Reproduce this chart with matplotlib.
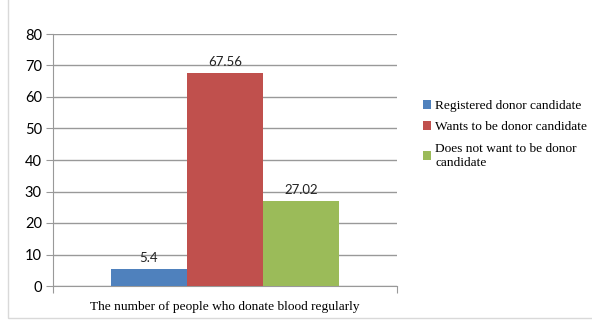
import matplotlib.pyplot as plt
from matplotlib.patches import Rectangle

series = ["Registered donor candidate", "Wants to be donor candidate",
          "Does not want to be donor\ncandidate"]
values = [5.4, 67.56, 27.02]
labels = ["5.4", "67.56", "27.02"]
colors = ["#4f81bd", "#c0504d", "#9bbb59"]
category = "The number of people who donate blood regularly"
yticks = [0, 10, 20, 30, 40, 50, 60, 70, 80]

fig = plt.figure(figsize=(5.92, 3.25), dpi=100)
fig.patches.append(Rectangle((8 / 592, 7 / 325), 1, 1, transform=fig.transFigure,
                             fill=False, edgecolor="#d9d9d9", linewidth=1))
ax = fig.add_axes([53 / 592, 39 / 325, 344 / 592, 252 / 325])

width = 0.221
offsets = [-width, 0, width]
for off, v, c, name, lab in zip(offsets, values, colors, series, labels):
    ax.bar(off, v, width=width, color=c, label=name, zorder=3)
    ax.text(off, v + 1.5, lab, ha="center", va="bottom", fontsize=9.5,
            family="Lato", color="#222222")

ax.set_xlim(-0.5, 0.5)
ax.set_ylim(0, 80)
ax.set_yticks(yticks)
ax.set_yticklabels([str(t) for t in yticks], family="Lato", fontsize=10.5)
ax.set_xticks([-0.5, 0.5])
ax.set_xticklabels(["", ""])
ax.grid(axis="y", color="#999999", linewidth=1, zorder=0)
for s in ["top", "right"]:
    ax.spines[s].set_visible(False)
ax.spines["left"].set_color("#999999")
ax.spines["bottom"].set_color("#999999")
ax.tick_params(axis="both", length=5, color="#999999", pad=3)
ax.set_xlabel(category, family="Liberation Serif", fontsize=9.6, labelpad=3)

leg = fig.legend(loc="upper left", bbox_to_anchor=(411 / 592, 1 - 88 / 325),
                 frameon=False, handlelength=0.6, handleheight=0.6,
                 handletextpad=0.3, labelspacing=0.7,
                 prop={"family": "Liberation Serif", "size": 9.6})
for t in leg.get_texts():
    t.set_linespacing(1.25)

fig.savefig("out.png", dpi=100)
